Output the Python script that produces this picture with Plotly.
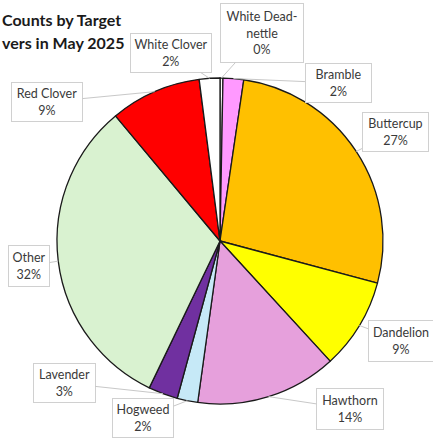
import math
import plotly.graph_objects as go

# ---- data ----
labels = ["White Dead-nettle", "Bramble", "Buttercup", "Dandelion", "Hawthorn",
          "Hogweed", "Lavender", "Other", "Red Clover", "White Clover"]
label_text = ["White Dead-<br>nettle", "Bramble", "Buttercup", "Dandelion", "Hawthorn",
              "Hogweed", "Lavender", "Other", "Red Clover", "White Clover"]
counts = [1, 7, 92, 31, 48, 7, 10, 109, 31, 7]
colors = ["#FFFFFF", "#FF99FF", "#FFC000", "#FFFF00", "#E6A0DC",
          "#C6E9F7", "#7030A0", "#D9F2D0", "#FF0000", "#FFFFFF"]
title_lines = ["Counts by Target", "vers in May 2025"]

# ---- layout (pixels) ----
W, H = 433, 439
cx, cy, R = 220, 241, 163
# callout box centres and sizes (pixels, y downward)
box_c = [(262, 33), (338, 83), (395, 132), (401, 341), (350, 409),
         (143, 418), (64, 383), (29, 266), (47, 102), (171, 53)]
box_wh = [(84, 60), (67, 40), (67, 40), (66, 42), (68, 42),
          (62, 40), (63, 40), (42, 42), (72, 40), (82, 40)]

fig = go.Figure()
fig.add_trace(go.Pie(
    labels=labels, values=counts, sort=False, direction="clockwise", rotation=0,
    marker=dict(colors=colors, line=dict(color="#1a1a1a", width=1.3)),
    textinfo="none", showlegend=False, hoverinfo="label+percent",
    domain=dict(x=[(cx - R) / W, (cx + R) / W], y=[(H - cy - R) / H, (H - cy + R) / H]),
))

total = sum(counts)
cum = 0
anns = []
for i, v in enumerate(counts):
    mid = cum + v / 2
    cum += v
    ang = math.radians(90 - 360 * mid / total)
    tx = cx + R * math.cos(ang)
    ty = cy - R * math.sin(ang)
    pct = round(100 * v / total)
    bx, by = box_c[i]
    bw, bh = box_wh[i]
    anns.append(dict(
        x=tx / W, y=1 - ty / H, xref="paper", yref="paper",
        ax=bx - tx, ay=by - ty, axref="pixel", ayref="pixel",
        text=f"{label_text[i]}<br>{pct}%", showarrow=True, arrowhead=0,
        arrowwidth=1, arrowcolor="#c8c8c8", standoff=0,
        bordercolor="#d0d0d0", borderwidth=1, borderpad=2, bgcolor="#FFFFFF",
        width=bw - 6, height=bh - 6, align="center", valign="middle",
        font=dict(family="Lato, Open Sans, sans-serif", size=12.5, color="#3a3a3a"),
    ))

for j, t in enumerate(title_lines):
    anns.append(dict(
        x=0, y=1 - (20 + 22 * j) / H, xref="paper", yref="paper",
        xanchor="left", yanchor="middle", showarrow=False, text=f"<b>{t}</b>",
        font=dict(family="Lato, Open Sans, sans-serif", size=16, color="#1a1a1a"),
    ))

fig.update_layout(
    width=W, height=H, margin=dict(l=0, r=0, t=0, b=0),
    paper_bgcolor="#FFFFFF", plot_bgcolor="#FFFFFF",
    annotations=anns,
)
fig.write_html("out.html", config={"displayModeBar": False},
               post_script="document.body.style.margin='0';document.body.style.overflow='hidden';")
